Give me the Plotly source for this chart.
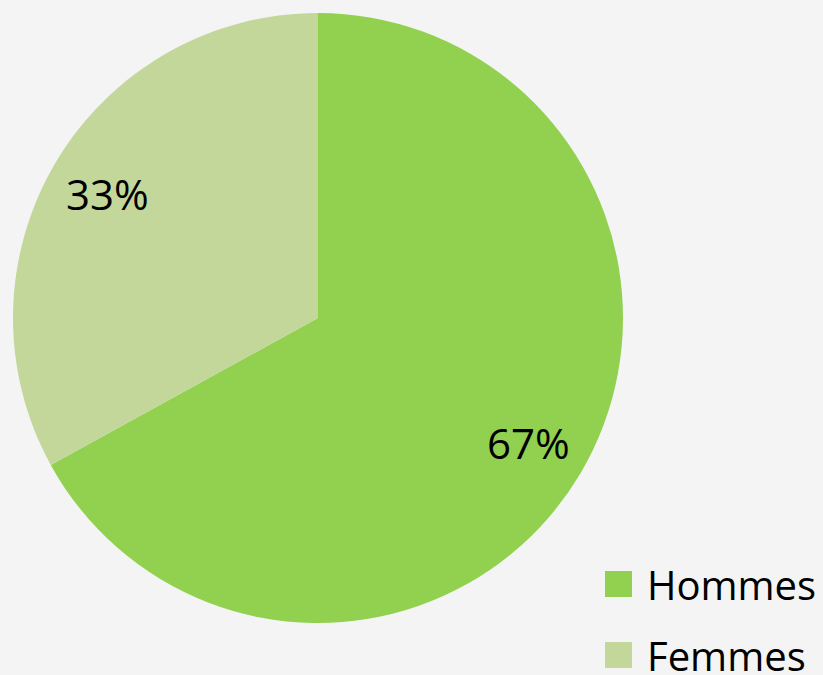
import math
import plotly.graph_objects as go

labels = ["Hommes", "Femmes"]
values = [67, 33]
colors = ["#92d050", "#c4d79b"]

W, H = 823, 675
cx_px, cy_px, r_px = 318, 318, 305

fig = go.Figure()
fig.add_trace(go.Pie(
    labels=labels, values=values, sort=False, direction="clockwise", rotation=0,
    marker=dict(colors=colors, line=dict(width=0)),
    textinfo="none", hoverinfo="label+percent", showlegend=False,
    domain=dict(x=[(cx_px - r_px) / W, (cx_px + r_px) / W],
                y=[1 - (cy_px + r_px) / H, 1 - (cy_px - r_px) / H]),
))

annotations = []
total = sum(values)
cum = 0
for lab, v in zip(labels, values):
    mid = (cum + v / 2) / total * 2 * math.pi
    cum += v
    x = (cx_px + 0.8 * r_px * math.sin(mid)) / W
    y = 1 - (cy_px - 0.8 * r_px * math.cos(mid)) / H
    annotations.append(dict(x=x, y=y, xref="paper", yref="paper",
                            xanchor="center", yanchor="middle",
                            text=f"{round(v / total * 100)}%", showarrow=False,
                            font=dict(size=42, color="#000000", family="Open Sans")))

shapes = []
leg_y = [584, 655]
for lab, c, ly in zip(labels, colors, leg_y):
    shapes.append(dict(type="rect", xref="paper", yref="paper",
                       x0=605 / W, x1=632 / W, y0=1 - (ly + 13) / H, y1=1 - (ly - 13) / H,
                       fillcolor=c, line=dict(width=0)))
    annotations.append(dict(x=645 / W, y=1 - ly / H, xref="paper", yref="paper",
                            xanchor="left", yanchor="middle", text=lab, showarrow=False,
                            font=dict(size=40, color="#000000", family="Open Sans")))

fig.update_layout(width=W, height=H, margin=dict(l=0, r=0, t=0, b=0),
                  paper_bgcolor="#f4f4f4", plot_bgcolor="#f4f4f4",
                  annotations=annotations, shapes=shapes)
fig.write_html("out.html", config={"displayModeBar": False},
               post_script="document.body.style.margin='0';document.body.style.overflow='hidden';")
